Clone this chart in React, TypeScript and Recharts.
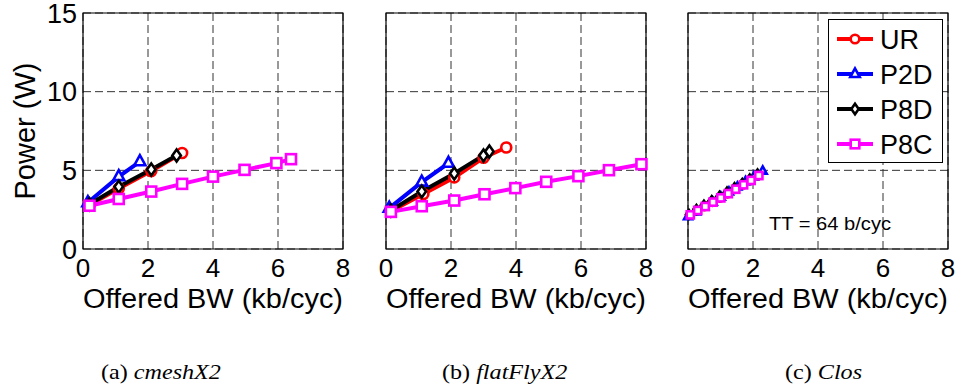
import { LineChart, Line, XAxis, YAxis, CartesianGrid, ReferenceArea, Legend, Label } from "recharts"

// x ticks / y ticks shared by all three panels
const xTicks = [0, 2, 4, 6, 8]
const yTicks = [0, 5, 10, 15]

// (a) cmeshX2
const aUrX = [0.2, 1.1, 2.1, 3.05]
const aUrY = [2.8, 3.85, 4.95, 6.1]
const aP2dX = [0.15, 1.1, 1.75]
const aP2dY = [2.95, 4.6, 5.55]
const aP8dX = [0.2, 1.1, 2.1, 2.88]
const aP8dY = [2.85, 3.95, 5.05, 5.95]
const aP8cX = [0.2, 1.1, 2.1, 3.05, 4.0, 4.97, 5.95, 6.4]
const aP8cY = [2.75, 3.18, 3.65, 4.14, 4.6, 5.03, 5.46, 5.71]

// (b) flatFlyX2
const bUrX = [0.15, 1.15, 2.1, 3.0, 3.7]
const bUrY = [2.4, 3.5, 4.55, 5.8, 6.45]
const bP2dX = [0.1, 1.1, 1.92]
const bP2dY = [2.6, 4.25, 5.45]
const bP8dX = [0.15, 1.1, 2.1, 3.0, 3.18]
const bP8dY = [2.45, 3.65, 4.8, 5.95, 6.2]
const bP8cX = [0.15, 1.1, 2.1, 3.03, 3.98, 4.93, 5.92, 6.86, 7.86]
const bP8cY = [2.36, 2.72, 3.08, 3.48, 3.87, 4.27, 4.63, 5.01, 5.39]

// (c) Clos
const cUrX = [0.05, 0.28, 0.51, 0.75, 0.99, 1.22, 1.45, 1.69, 1.92, 2.16]
const cUrY = [2.15, 2.43, 2.7, 2.97, 3.24, 3.51, 3.79, 4.07, 4.35, 4.65]
const cP2dX = [0.0, 0.25, 0.5, 0.76, 1.01, 1.26, 1.52, 1.77, 2.03, 2.3]
const cP2dY = [2.05, 2.35, 2.67, 2.98, 3.3, 3.62, 3.94, 4.28, 4.6, 4.95]
const cP8dX = [0.03, 0.26, 0.49, 0.73, 0.97, 1.2, 1.43, 1.67, 1.9, 2.14]
const cP8dY = [2.2, 2.52, 2.8, 3.08, 3.36, 3.63, 3.9, 4.18, 4.46, 4.78]
const cP8cX = [0.07, 0.3, 0.53, 0.77, 1.01, 1.24, 1.47, 1.71, 1.94, 2.18]
const cP8cY = [2.17, 2.45, 2.7, 2.98, 3.25, 3.52, 3.8, 4.08, 4.36, 4.67]

const seriesNames = ["UR", "P2D", "P8D", "P8C"]
const seriesColors = ["#ff0000", "#0000ff", "#000000", "#ff00ff"]
const seriesShapes = ["circle", "triangle", "diamond", "square"]

const zip = (xs: number[], ys: number[]) => xs.map((x, i) => ({ x, y: ys[i] }))

const FONT = "'Liberation Sans', Arial, Helvetica, sans-serif"
const SERIF = "'Liberation Serif', 'Times New Roman', serif"

function drawMarker(shape: string, color: string, s: number, cx: number, cy: number, key?: string) {
  const sw = 2.6
  if (shape === "circle")
    return <circle key={key} cx={cx} cy={cy} r={s} fill="#fff" stroke={color} strokeWidth={sw} />
  if (shape === "triangle")
    return (
      <polygon
        key={key}
        points={`${cx},${cy - s * 1.3} ${cx - s * 1.1},${cy + s * 0.7} ${cx + s * 1.1},${cy + s * 0.7}`}
        fill="#fff"
        stroke={color}
        strokeWidth={sw}
      />
    )
  if (shape === "diamond")
    return (
      <polygon
        key={key}
        points={`${cx},${cy - s * 1.2} ${cx + s * 0.85},${cy} ${cx},${cy + s * 1.2} ${cx - s * 0.85},${cy}`}
        fill="#fff"
        stroke={color}
        strokeWidth={sw}
      />
    )
  return <rect key={key} x={cx - s} y={cy - s} width={s * 2} height={s * 2} fill="#fff" stroke={color} strokeWidth={sw} />
}

const dotFor = (k: number, s: number) => (p: any) =>
  drawMarker(seriesShapes[k], seriesColors[k], s, p.cx, p.cy, `m${k}-${p.index}`)

function XLabel(props: any) {
  const vb = props.viewBox
  return (
    <text
      x={vb.x + vb.width / 2}
      y={vb.y + 59}
      textAnchor="middle"
      fontFamily={FONT}
      fontSize={27}
      textLength={260}
      lengthAdjust="spacingAndGlyphs"
      fill="#000"
    >
      Offered BW (kb/cyc)
    </text>
  )
}

function YLabel() {
  return (
    <text x={35} y={131} transform="rotate(-90 35 131)" textAnchor="middle" fontFamily={FONT} fontSize={29} fill="#000">
      Power (W)
    </text>
  )
}

function LegendBox() {
  const rows = [20, 55, 90, 125]
  return (
    <svg width={116} height={145}>
      <rect x={0.5} y={0.5} width={114} height={143} fill="#fff" stroke="#000" strokeWidth={1} />
      {seriesNames.map((name, k) => (
        <g key={name}>
          <line x1={9} x2={45} y1={rows[k]} y2={rows[k]} stroke={seriesColors[k]} strokeWidth={4} />
          {drawMarker(seriesShapes[k], seriesColors[k], 4.3, 27, rows[k])}
          <text x={52} y={rows[k] + 9.5} fontFamily={FONT} fontSize={27} fill="#000">
            {name}
          </text>
        </g>
      ))}
    </svg>
  )
}

type PanelProps = {
  left: number
  width: number
  marginLeft: number
  marginRight: number
  showY: boolean
  data: { x: number; y: number }[][]
  size: number
  legend?: boolean
}

function Panel({ left, width, marginLeft, marginRight, showY, data, size, legend }: PanelProps) {
  return (
    <div style={{ position: "absolute", left, top: 0 }}>
      <LineChart
        width={width}
        height={330}
        margin={{ top: 13, right: marginRight, bottom: 41, left: marginLeft }}
        style={{ overflow: "visible" }}
      >
        <CartesianGrid stroke="#333" strokeDasharray="8 4" strokeWidth={1} />
        <XAxis
          dataKey="x"
          type="number"
          domain={[0, 8]}
          ticks={xTicks}
          interval={0}
          height={40}
          axisLine={false}
          tickLine={false}
          tickMargin={4}
          tick={{ fill: "#000", fontSize: 26, fontFamily: FONT }}
        >
          <Label content={XLabel} />
        </XAxis>
        <YAxis
          dataKey="y"
          type="number"
          domain={[0, 15]}
          ticks={yTicks}
          interval={0}
          hide={!showY}
          width={83}
          axisLine={false}
          tickLine={false}
          tickMargin={0}
          tick={{ fill: "#000", fontSize: 27, fontFamily: FONT }}
        >
          {showY && <Label content={YLabel} />}
        </YAxis>
        <ReferenceArea x1={0} x2={8} y1={0} y2={15} fill="none" fillOpacity={0} stroke="#000" strokeWidth={1.2} />
        {data.map((d, k) => (
          <Line
            key={seriesNames[k]}
            data={d}
            dataKey="y"
            name={seriesNames[k]}
            type="linear"
            stroke={seriesColors[k]}
            strokeWidth={4}
            dot={dotFor(k, size)}
            activeDot={false}
            isAnimationActive={false}
          />
        ))}
        {legend && (
          <Legend
            layout="vertical"
            align="center"
            verticalAlign="middle"
            content={LegendBox}
            wrapperStyle={{ left: 178, top: 19, width: 116, height: 145 }}
          />
        )}
      </LineChart>
    </div>
  )
}

export default function App() {
  const aData = [zip(aUrX, aUrY), zip(aP2dX, aP2dY), zip(aP8dX, aP8dY), zip(aP8cX, aP8cY)]
  const bData = [zip(bUrX, bUrY), zip(bP2dX, bP2dY), zip(bP8dX, bP8dY), zip(bP8cX, bP8cY)]
  const cData = [zip(cUrX, cUrY), zip(cP2dX, cP2dY), zip(cP8dX, cP8dY), zip(cP8cX, cP8cY)]
  return (
    <div style={{ position: "absolute", left: 0, top: 0, width: 956, height: 390, background: "#fff" }}>
      <Panel left={0} width={360} marginLeft={0} marginRight={17} showY data={aData} size={5} />
      <Panel left={350} width={310} marginLeft={36} marginRight={14} showY={false} data={bData} size={5} />
      <Panel left={650} width={306} marginLeft={38} marginRight={8} showY={false} data={cData} size={3.6} legend />
      <svg width={956} height={390} style={{ position: "absolute", left: 0, top: 0, pointerEvents: "none" }}>
        <text x={769} y={230} fontFamily={FONT} fontSize={19} textLength={122} lengthAdjust="spacingAndGlyphs">
          TT = 64 b/cyc
        </text>
        <text transform="translate(101 379) scale(1.15 1)" fontFamily={SERIF} fontSize={21}>
          (a) <tspan fontStyle="italic">cmeshX2</tspan>
        </text>
        <text transform="translate(442 379) scale(1.15 1)" fontFamily={SERIF} fontSize={21}>
          (b) <tspan fontStyle="italic">flatFlyX2</tspan>
        </text>
        <text transform="translate(785 379) scale(1.15 1)" fontFamily={SERIF} fontSize={21}>
          (c) <tspan fontStyle="italic">Clos</tspan>
        </text>
      </svg>
    </div>
  )
}
